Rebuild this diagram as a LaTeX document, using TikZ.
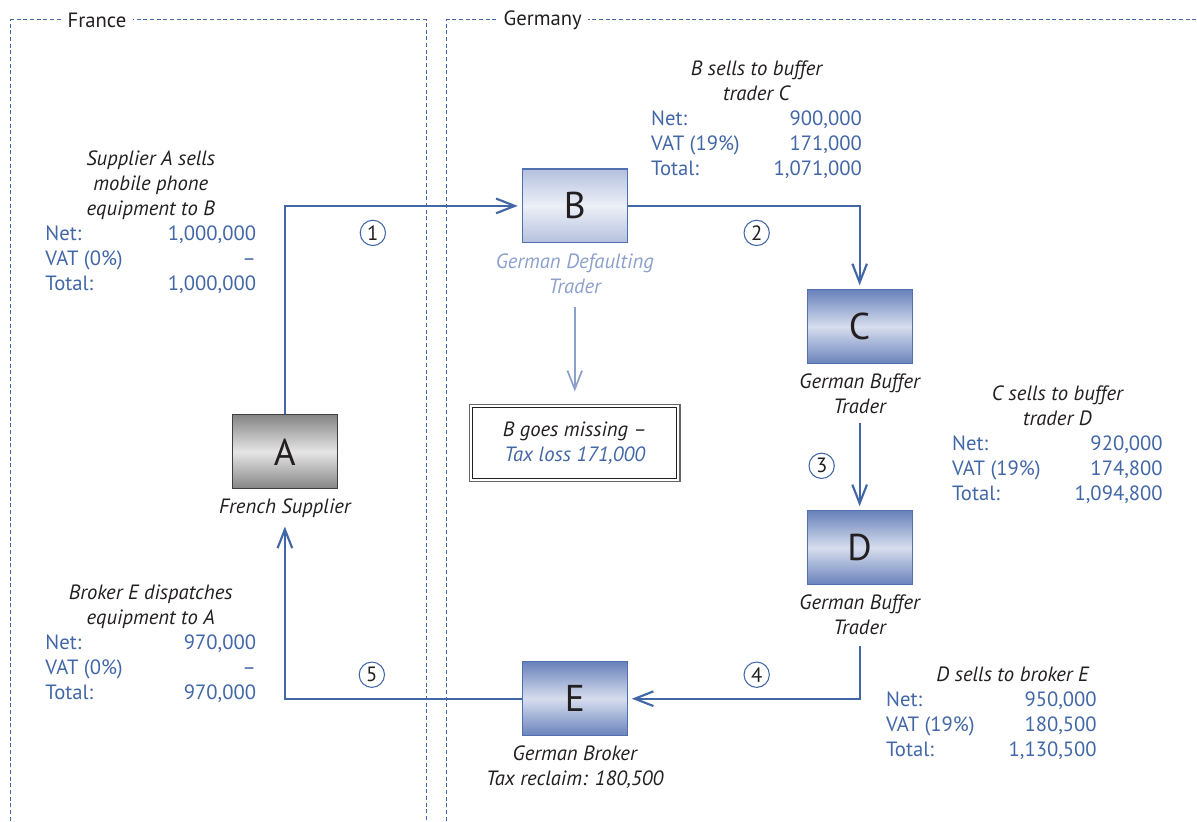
\documentclass[tikz,border=0pt]{standalone}
\usepackage{fontspec}
\setmainfont{PT Sans}
\usepackage{array}
\usetikzlibrary{arrows.meta,positioning}

\definecolor{flowblue}{RGB}{66,103,167}
\definecolor{paleblue}{RGB}{140,160,205}
\definecolor{textdark}{RGB}{35,31,32}
\definecolor{boxblue}{RGB}{105,130,187}
\definecolor{boxlight}{RGB}{214,221,238}
\definecolor{boxedge}{RGB}{80,112,175}

\newcolumntype{L}{>{\color{flowblue}}l}
\newcolumntype{R}{>{\color{flowblue}}r}
\newcommand{\txtfont}{\fontsize{15.5}{18.75}\selectfont}

\tikzset{every picture/.style={line width=0.75pt}}

\begin{document}
\begin{tikzpicture}[x=0.75pt,y=0.75pt,yscale=-1,xscale=1,
  trader/.style={draw=boxedge, line width=0.9pt, minimum width=78.75pt, minimum height=55.5pt,
    inner sep=0pt, text=textdark, font=\fontsize{28}{30}\selectfont},
  bluetrader/.style={trader, top color=boxblue, bottom color=boxblue, middle color=boxlight},
  lbl/.style={inner sep=0pt, align=center, text=textdark, font=\txtfont\itshape},
  tab/.style={inner sep=0pt, anchor=base west, text=textdark, font=\txtfont},
  flow/.style={draw=flowblue, line width=1.6pt, -{Straight Barb[length=14pt,width=11pt]}, shorten >=3pt},
  numc/.style={circle, draw=flowblue, line width=0.8pt, minimum size=19pt, inner sep=0pt, text=textdark, font=\txtfont},
  border/.style={draw=flowblue, line width=0.75pt, dash pattern=on 3pt off 2pt}
  ]
\path (0,0) rectangle (1197,821);

%Frames
\draw [border] (11,821) -- (11,20) -- (427,20) -- (427,821) ;
\draw [border] (447,821) -- (447,20) -- (1197,20) ;
% Text Node
\draw (97,20) node [fill=white, inner xsep=5pt, inner ysep=1pt, text=textdark, font=\txtfont] (fr) {France};
% Text Node
\draw (543,20) node [fill=white, inner xsep=5pt, inner ysep=1pt, text=textdark, font=\txtfont] (de) {Germany};

%Traders
\draw (285,452) node [trader, top color=black!48, bottom color=black!48, middle color=black!10, draw=black!75] (A) {A};
\draw (575,206) node [trader, top color=boxblue!50, bottom color=boxblue!50, middle color=boxlight!45] (B) {B};
\draw (860,327) node [bluetrader] (C) {C};
\draw (860,548) node [bluetrader] (D) {D};
\draw (575,699) node [bluetrader] (E) {E};

% Text Node
\node [lbl, below=7pt of A] (Al) {French Supplier};
\node [lbl, below=7pt of B, text=paleblue] (Bl) {German Defaulting\\Trader};
\node [lbl, below=7pt of C] (Cl) {German Buffer\\Trader};
\node [lbl, below=7pt of D] (Dl) {German Buffer\\Trader};
\node [lbl, below=7pt of E] (El) {German Broker\\Tax reclaim: 180,500};

%Missing trader
\draw (575,443) node [draw=black!60, line width=0.9pt, minimum width=158pt, minimum height=58pt] (miss) {};
\draw (575,443) node [draw=textdark, line width=0.6pt, minimum width=153pt, minimum height=53pt,
  align=center, text=textdark, font=\txtfont\itshape] (missin)
  {B goes missing --\\\textcolor{flowblue}{Tax loss 171,000}};

%Flows
\draw [flow] (A.north) |- (B.west) ;
\draw [flow] (B.east) -| (C.north) ;
\draw [flow, shorten <=6pt] (Cl.south) -- (D.north) ;
\draw [flow, shorten <=8pt] (Dl.south) |- (E.east) ;
\draw [flow, shorten >=6pt] (E.west) -| (Al.south) ;
\draw [flow, draw=paleblue, line width=1.3pt, shorten <=10pt, shorten >=9pt] (Bl.south) -- (miss.north) ;

%Steps
\draw (373,233) node [numc] (s1) {1};
\draw (757,233) node [numc] (s2) {2};
\draw (822,466) node [numc] (s3) {3};
\draw (757,675) node [numc] (s4) {4};
\draw (372,675) node [numc] (s5) {5};

%Invoices
\draw (45,166) node [tab] (tabA) {\begin{tabular*}{158pt}[t]{@{}L@{\extracolsep{\fill}}R@{}}
  \multicolumn{2}{c}{\itshape Supplier A sells}\\
  \multicolumn{2}{c}{\itshape mobile phone}\\
  \multicolumn{2}{c}{\itshape equipment to B}\\
  Net: & 1,000,000\\
  VAT (0\%) & --\\
  Total: & 1,000,000
\end{tabular*}};
\draw (651,76) node [tab] (tabB) {\begin{tabular*}{158pt}[t]{@{}L@{\extracolsep{\fill}}R@{}}
  \multicolumn{2}{c}{\itshape B sells to buffer}\\
  \multicolumn{2}{c}{\itshape trader C}\\
  Net: & 900,000\\
  VAT (19\%) & 171,000\\
  Total: & 1,071,000
\end{tabular*}};
\draw (952,401) node [tab] (tabC) {\begin{tabular*}{158pt}[t]{@{}L@{\extracolsep{\fill}}R@{}}
  \multicolumn{2}{c}{\itshape C sells to buffer}\\
  \multicolumn{2}{c}{\itshape trader D}\\
  Net: & 920,000\\
  VAT (19\%) & 174,800\\
  Total: & 1,094,800
\end{tabular*}};
\draw (886,682) node [tab] (tabD) {\begin{tabular*}{158pt}[t]{@{}L@{\extracolsep{\fill}}R@{}}
  \multicolumn{2}{r}{\itshape D sells to broker E}\\
  Net: & 950,000\\
  VAT (19\%) & 180,500\\
  Total: & 1,130,500
\end{tabular*}};
\draw (45,600) node [tab] (tabE) {\begin{tabular*}{158pt}[t]{@{}L@{\extracolsep{\fill}}R@{}}
  \multicolumn{2}{c}{\itshape Broker E dispatches}\\
  \multicolumn{2}{c}{\itshape equipment to A}\\
  Net: & 970,000\\
  VAT (0\%) & --\\
  Total: & 970,000
\end{tabular*}};

\end{tikzpicture}
\end{document}
